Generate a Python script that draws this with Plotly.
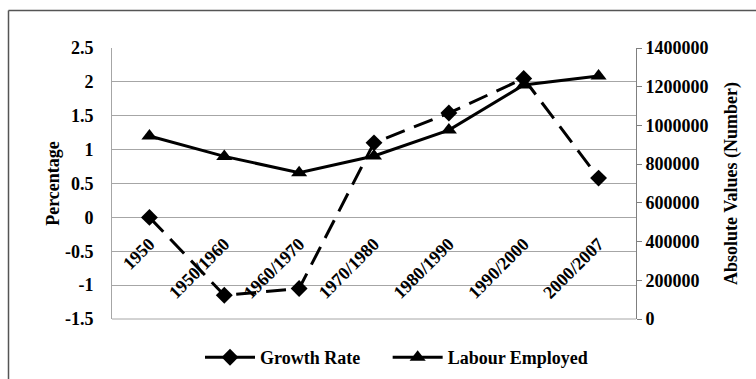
import plotly.graph_objects as go

categories = ["1950", "1950/1960", "1960/1970", "1970/1980", "1980/1990", "1990/2000", "2000/2007"]
growth_rate = [0.0, -1.15, -1.05, 1.10, 1.54, 2.05, 0.58]
labour_employed = [945000, 840000, 756000, 842000, 976000, 1209000, 1255000]
left_ticks = [2.5, 2, 1.5, 1, 0.5, 0, -0.5, -1, -1.5]
right_ticks = [0, 200000, 400000, 600000, 800000, 1000000, 1200000, 1400000]
series_names = ["Growth Rate", "Labour Employed"]

W, H = 756, 379
ML, MR, MT, MB = 112, 120, 48, 60
pw, ph = W - ML - MR, H - MT - MB

FONT = "Liberation Serif"
FS = 18

fig = go.Figure()
fig.add_trace(go.Scatter(
    x=categories, y=growth_rate, name=f"<b>{series_names[0]}</b>" + "&nbsp;" * 5,
    mode="lines+markers",
    line=dict(color="black", width=3, dash="20px,10px"),
    marker=dict(symbol="diamond", size=13, color="black"),
    yaxis="y",
))
fig.add_trace(go.Scatter(
    x=categories, y=labour_employed, name=f"<b>{series_names[1]}</b>", mode="lines+markers",
    line=dict(color="black", width=3),
    marker=dict(symbol="triangle-up", size=14, color="black"),
    yaxis="y2",
))

def px2paper_x(px):
    return (px - ML) / pw

def px2paper_y(py):
    return 1 - (py - MT) / ph

# outer chart frame (top and left edges visible)
fig.add_shape(type="line", xref="paper", yref="paper",
              x0=px2paper_x(8.5), x1=px2paper_x(760), y0=px2paper_y(10.5), y1=px2paper_y(10.5),
              line=dict(color="#555555", width=1.5))
fig.add_shape(type="line", xref="paper", yref="paper",
              x0=px2paper_x(8.5), x1=px2paper_x(8.5), y0=px2paper_y(10.5), y1=px2paper_y(385),
              line=dict(color="#555555", width=1.5))
# plot area bottom border
fig.add_shape(type="line", xref="paper", yref="paper", x0=0, x1=1, y0=0, y1=0,
              line=dict(color="#a6a6a6", width=1))

zero_pos = (0 - (-1.5)) / (2.5 - (-1.5))

fig.update_layout(
    width=W, height=H,
    margin=dict(l=ML, r=MR, t=MT, b=MB, autoexpand=False),
    paper_bgcolor="white", plot_bgcolor="white",
    font=dict(family=FONT, color="black", size=FS),
    showlegend=True,
    legend=dict(orientation="h", x=px2paper_x(200), xanchor="left", y=px2paper_y(339), yanchor="top",
                font=dict(family=FONT, size=FS, color="black"), itemwidth=50,
                bgcolor="rgba(0,0,0,0)", tracegroupgap=0),
    xaxis=dict(
        type="category", range=[-0.5, 6.5], anchor="free", position=zero_pos,
        showgrid=False, showline=False, zeroline=False,
        ticks="outside", ticklen=8, tickcolor="rgba(0,0,0,0)",
        tickangle=-45, tickfont=dict(family=FONT, size=FS, color="black"),
        tickprefix="<b>", ticksuffix="</b>",
    ),
    yaxis=dict(
        range=[-1.5, 2.5], tickvals=left_ticks, ticktext=[f"<b>{v:g}</b>" for v in left_ticks],
        showgrid=True, gridcolor="#a6a6a6", gridwidth=1, zeroline=False,
        showline=True, linecolor="#a6a6a6", linewidth=1,
        ticks="outside", ticklen=14, tickcolor="rgba(0,0,0,0)",
        tickfont=dict(family=FONT, size=FS, color="black"),
        title=dict(text="<b>Percentage</b>", font=dict(family=FONT, size=FS), standoff=0),
    ),
    yaxis2=dict(
        range=[0, 1400000], tickvals=right_ticks, ticktext=[f"<b>{v}</b>" for v in right_ticks],
        overlaying="y", side="right", showgrid=False, zeroline=False,
        showline=True, linecolor="#7f7f7f", linewidth=1,
        ticks="outside", ticklen=5, tickcolor="#7f7f7f",
        tickfont=dict(family=FONT, size=FS, color="black"),
        title=dict(text="<b>Absolute Values (Number)</b>", font=dict(family=FONT, size=FS), standoff=16),
    ),
)

fig.write_html("out.html")
